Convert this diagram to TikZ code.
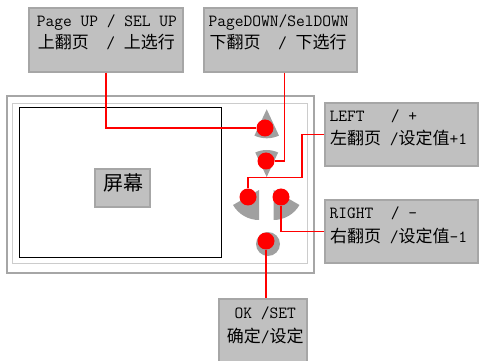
\documentclass[tikz,border=0pt]{standalone}
\usepackage{fontspec}
\newfontfamily\cjk{Noto Sans CJK SC}
\definecolor{boxgray}{RGB}{192,192,192}
\definecolor{edgegray}{RGB}{166,166,166}
\definecolor{btngray}{RGB}{160,160,160}
\definecolor{rimgray}{RGB}{204,204,204}
\begin{document}
\begin{tikzpicture}[x=1pt,y=-1pt,
    box/.style={rectangle, draw=edgegray, fill=boxgray, line width=1.5pt, inner sep=0pt},
    txt/.style={anchor=base west, inner sep=0pt, font=\fontsize{17}{20}\selectfont\ttfamily},
    dot/.style={circle, fill=red, inner sep=0pt, minimum size=17pt},
    wire/.style={red, line width=1.5pt},
    btn/.style={fill=btngray}]
  \useasboundingbox (0,0) rectangle (491,361);
  % device
  \draw[edgegray, line width=1.5pt] (7,96) rectangle (314,273);
  \draw[rimgray, line width=0.8pt] (12,103) rectangle (307,263);
  \draw[black, line width=0.8pt, fill=white] (19,107) rectangle (221,257);
  \node[box, minimum width=55pt, minimum height=38pt] (scr) at (122.5,188) {};
  \node[inner sep=0pt, font=\fontsize{20}{20}\selectfont\cjk] (scrt) at (123.5,183) {屏幕};
  % keys
  \fill[btn] (266.7,109.3) -- ++(65:29) arc[start angle=65, end angle=115, radius=29] -- cycle;
  \fill[btn] (266.7,177) -- ++(245:27) arc[start angle=245, end angle=295, radius=27] -- cycle;
  \fill[btn] (259,190) -- ++(90:30) arc[start angle=90, end angle=150, radius=30] -- cycle;
  \fill[btn] (273.5,190) -- ++(30:30) arc[start angle=30, end angle=90, radius=30] -- cycle;
  \fill[btn] (268,244) circle[radius=12];
  \node[dot] (bup) at (265,128) {};
  \node[dot] (bdown) at (266,161) {};
  \node[dot] (bleft) at (248,197) {};
  \node[dot] (bright) at (281,197) {};
  \node[dot] (bok) at (266,241) {};
  % labels
  \node[box, minimum width=154pt, minimum height=64pt] (pgup) at (106,40) {};
  \node[txt] (pgupa) at (36.7,26.7) {Page UP / SEL UP};
  \node[txt] (pgupb) at (37.7,49) {{\cjk 上翻页}~~/~{\cjk 上选行}};
  \node[box, minimum width=153pt, minimum height=64pt] (pgdn) at (280.5,40) {};
  \node[txt] (pgdna) at (208.3,26.7) {PageDOWN/SelDOWN};
  \node[txt] (pgdnb) at (209.3,49) {{\cjk 下翻页}~~/~{\cjk 下选行}};
  \node[box, minimum width=153pt, minimum height=63pt] (lft) at (401.5,134.5) {};
  \node[txt] (lfta) at (329.3,121.7) {LEFT~~~/~+};
  \node[txt] (lftb) at (330,145) {{\cjk 左翻页}~/{\cjk 设定值}+1};
  \node[box, minimum width=153pt, minimum height=63pt] (rgt) at (401.5,231.5) {};
  \node[txt] (rgta) at (329.3,218.3) {RIGHT~~/~-};
  \node[txt] (rgtb) at (330,243) {{\cjk 右翻页}~/{\cjk 设定值}-1};
  \node[box, minimum width=88pt, minimum height=63pt] (ok) at (263,330.5) {};
  \node[txt] (oka) at (234.3,319) {OK~/SET};
  \node[txt] (okb) at (226.7,342) {{\cjk 确定}/{\cjk 设定}};
  % wires
  \draw[wire] (pgup.south) |- (bup);
  \draw[wire] ([xshift=3.8pt]pgdn.south) |- (bdown);
  \draw[wire] (lft.west) -- ++(-22.3,0) -- ++(0,43) -| (bleft);
  \draw[wire] (rgt.west) -| (bright);
  \draw[wire] (bok) -- (bok |- ok.north);
\end{tikzpicture}
\end{document}
